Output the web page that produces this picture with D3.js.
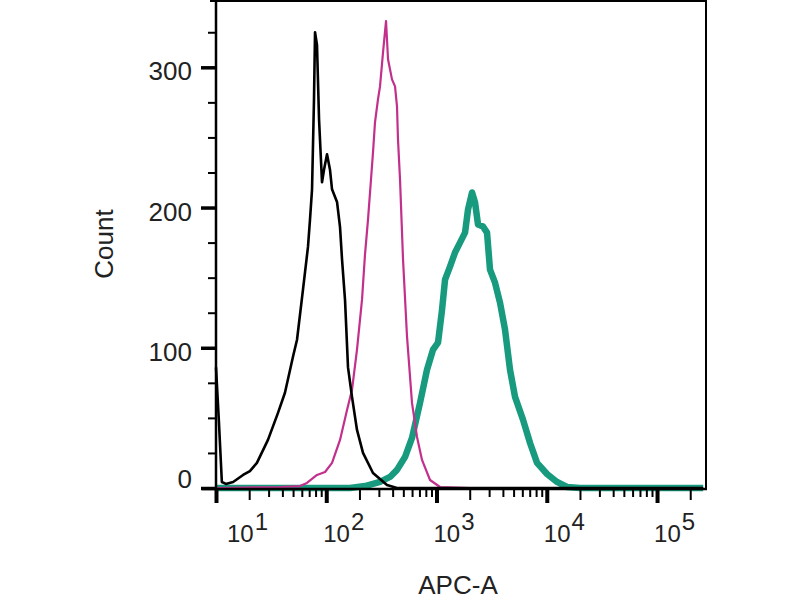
<!DOCTYPE html>
<html>
<head>
<meta charset="utf-8">
<script src="https://cdn.jsdelivr.net/npm/d3@7"></script>
<style>
  body { margin: 0; background: #fff; }
  svg { display: block; font-family: "Liberation Sans", Arial, sans-serif; }
</style>
</head>
<body>
<div id="chart"></div>
<script>
// APC-A intensity (x) and event count (y)
var blackX = [10, 10.6, 11.3, 12.3, 14.3, 17.6, 20.3, 23.5, 29.6, 36.5, 42.2, 49.9, 54.3, 61.5, 68.3, 71.2, 74.3, 77.4, 79.1, 82.4, 86.0, 91.5, 95.4, 101.6, 108.1, 112.8, 125.2, 133.3, 139.0, 148.0, 157.5, 171.2, 190.0, 215.4, 265.4, 355.4, 438, 262144];
var blackY = [86, 49, 4.3, 2.9, 4.3, 9.3, 12.1, 17.9, 34.3, 53.6, 67.9, 93.6, 105.7, 141.4, 172.1, 191.4, 212.9, 277, 325, 316, 263, 218, 227, 238, 227, 213, 204, 186, 163, 134, 86, 65, 41.4, 25, 10.7, 2.1, 0, 0];

var pinkX = [10, 38.0, 57.8, 66.8, 82.4, 97.5, 112.8, 133.3, 154.3, 171.2, 190.0, 211.0, 224.5, 239.1, 254.5, 265.4, 276.7, 294.5, 307.3, 327.2, 348.3, 363.2, 394.6, 420.3, 438.1, 447.3, 466.6, 496.9, 540.1, 599.2, 665.4, 738.6, 872.9, 1075, 2014, 262144];
var pinkY = [0, 0.7, 1.4, 3.6, 9.3, 11.4, 17.9, 34.3, 55.7, 70, 98.6, 134.3, 166.4, 191.4, 220, 239.3, 260.7, 277.1, 286.4, 310.7, 333, 305.7, 291.4, 286.4, 272.1, 248.6, 220, 162.9, 107.9, 60.7, 36.4, 20, 5.7, 0.7, 0, 0];

var greenX = [10, 164, 224.5, 307.3, 378.8, 438.1, 517.6, 599.2, 708.5, 819.6, 929, 1032, 1122, 1195, 1325, 1471, 1633, 1814, 1931, 2100, 2235, 2379, 2641, 2871, 3056, 3393, 3767, 4181, 4642, 5153, 6092, 7052, 8161, 10050, 12380, 15270, 20030, 262144];
var greenY = [0, 0, 1.4, 4.3, 7.9, 12.9, 22.1, 35.7, 60.7, 84.3, 98.6, 103.6, 127.1, 148.6, 157.9, 167.9, 175, 182.1, 198.6, 210.7, 203.6, 187.9, 186.4, 182.1, 155.7, 146.4, 132.1, 112.9, 84.3, 65, 48.6, 32.1, 17.9, 10, 4.3, 0.7, 0, 0];

var yMajor = [0, 100, 200, 300];
var yMinor = [25, 50, 75, 125, 150, 175, 225, 250, 275, 325];
var xDecades = [10, 100, 1000, 10000, 100000];
var xExponents = ["1", "2", "3", "4", "5"];
var xTitle = "APC-A";
var yTitle = "Count";

var width = 800, height = 600;
var svg = d3.select('#chart').append('svg')
    .attr('width', width)
    .attr('height', height);

var x = d3.scaleLog().domain([10, Math.pow(10, 5.444)]).range([216, 706]);
var y = d3.scaleLinear().domain([0, 348]).range([488, 0]);

// minor log ticks 2..9 in each decade
var xMinor = [], xMid = [];
xDecades.forEach(function (d) {
    for (var k = 2; k <= 9; k++) {
        var v = d * k;
        if (v > x.domain()[1]) break;
        if (k === 2) xMid.push(v); else xMinor.push(v);
    }
});

// curves
var line = d3.line()
    .x(function (d) { return x(d[0]); })
    .y(function (d) { return y(d[1]); });

function pairs(xs, ys) { return xs.map(function (v, i) { return [v, ys[i]]; }); }

svg.append('path')
    .datum(pairs(greenX, greenY))
    .attr('d', line)
    .attr('fill', 'none')
    .attr('stroke', '#179a7e')
    .attr('stroke-width', 6.5)
    .attr('stroke-linejoin', 'round');

svg.append('path')
    .datum(pairs(pinkX, pinkY))
    .attr('d', line)
    .attr('fill', 'none')
    .attr('stroke', '#c2308c')
    .attr('stroke-width', 2.2)
    .attr('stroke-linejoin', 'round');

svg.append('path')
    .datum(pairs(blackX, blackY))
    .attr('d', line)
    .attr('fill', 'none')
    .attr('stroke', '#000')
    .attr('stroke-width', 2.6)
    .attr('stroke-linejoin', 'round');

// frame top and right
svg.append('line')
    .attr('x1', 210).attr('x2', 707).attr('y1', 1).attr('y2', 1)
    .attr('stroke', '#000').attr('stroke-width', 2);
svg.append('line')
    .attr('x1', 706).attr('x2', 706).attr('y1', 0).attr('y2', 490)
    .attr('stroke', '#000').attr('stroke-width', 2);

// y axis
var yAxisMinor = svg.append('g')
    .attr('transform', 'translate(216,0)')
    .call(d3.axisLeft(y).tickValues(yMinor).tickSize(8).tickFormat(''));
yAxisMinor.select('.domain').remove();
yAxisMinor.selectAll('line').attr('stroke-width', 2);

var yAxis = svg.append('g')
    .attr('transform', 'translate(216,0)')
    .call(d3.axisLeft(y).tickValues(yMajor).tickSize(15).tickSizeOuter(0).tickFormat(''));
yAxis.select('.domain').attr('stroke-width', 2.5).attr('d', 'M0,0V490');
yAxis.selectAll('line').attr('stroke-width', 3.5);

svg.append('g').selectAll('text')
    .data(yMajor)
    .enter().append('text')
    .attr('x', 192)
    .attr('y', function (d) { return Math.min(y(d) + 13, y(0)); })
    .attr('text-anchor', 'end')
    .attr('font-size', 26)
    .attr('fill', '#222')
    .text(function (d) { return d; });

// x axis
var xAxisMinor = svg.append('g')
    .attr('transform', 'translate(0,489)')
    .call(d3.axisBottom(x).tickValues(xMinor).tickSize(8).tickFormat(''));
xAxisMinor.select('.domain').remove();
xAxisMinor.selectAll('line').attr('stroke-width', 2);

var xAxisMid = svg.append('g')
    .attr('transform', 'translate(0,489)')
    .call(d3.axisBottom(x).tickValues(xMid).tickSize(11).tickFormat(''));
xAxisMid.select('.domain').remove();
xAxisMid.selectAll('line').attr('stroke-width', 2);

var xAxis = svg.append('g')
    .attr('transform', 'translate(0,489)')
    .call(d3.axisBottom(x).tickValues(xDecades).tickSize(14).tickSizeOuter(0).tickFormat(''));
xAxis.select('.domain').attr('stroke-width', 2.5).attr('d', 'M202,0H707');
xAxis.selectAll('line').attr('stroke-width', 4);

var xLabels = svg.append('g').selectAll('text')
    .data(xDecades)
    .enter().append('text')
    .attr('x', function (d) { return Math.max(x(d) - 3, x.range()[0] + 11); })
    .attr('y', 542)
    .attr('font-size', 24)
    .attr('fill', '#222');
xLabels.append('tspan').text('10');
xLabels.append('tspan')
    .attr('dx', 1)
    .attr('dy', -12)
    .attr('font-size', 24)
    .text(function (d, i) { return xExponents[i]; });

// titles
svg.append('text')
    .attr('x', 458)
    .attr('y', 594)
    .attr('text-anchor', 'middle')
    .attr('font-size', 26)
    .attr('fill', '#222')
    .text(xTitle);

svg.append('text')
    .attr('transform', 'translate(113,244) rotate(-90)')
    .attr('text-anchor', 'middle')
    .attr('font-size', 26)
    .attr('fill', '#222')
    .text(yTitle);
</script>
</body>
</html>
